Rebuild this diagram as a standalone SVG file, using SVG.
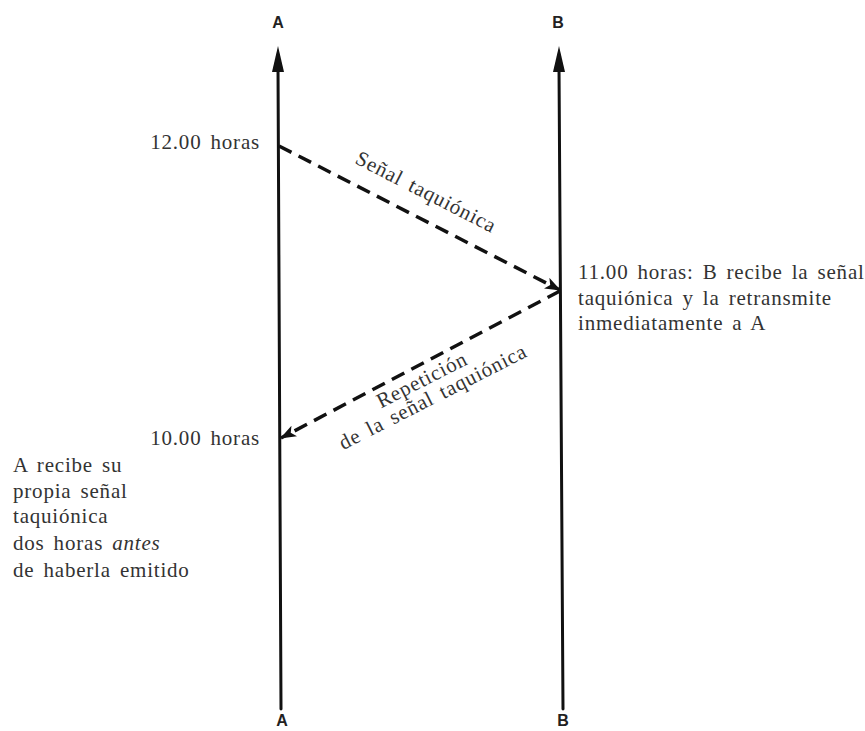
<svg xmlns="http://www.w3.org/2000/svg" width="865" height="731" viewBox="0 0 865 731">
<defs>
<style>
.t{font-family:"Liberation Serif","DejaVu Serif","Times New Roman",serif;font-size:21px;fill:#333;letter-spacing:0.8px;word-spacing:3px}
.lbl{font-family:"Liberation Sans","DejaVu Sans",Arial,sans-serif;font-size:16px;font-weight:bold;fill:#222;text-anchor:middle}
.axis{stroke:#111;stroke-width:3;fill:none;stroke-linecap:round}
.sig{stroke:#111;stroke-width:3.5;fill:none;stroke-dasharray:14 8}
</style>
<marker id="ah" viewBox="0 0 16 12" refX="15" refY="6" markerWidth="16" markerHeight="12" markerUnits="userSpaceOnUse" orient="auto">
<path d="M0,0 L16,6 L0,12 L4,6 Z" fill="#111"/>
</marker>
</defs>
<rect width="865" height="731" fill="#fff"/>
<g id="axisA">
<line class="axis" x1="278" y1="66" x2="281" y2="709"/>
<path d="M278,46 L284,72 L272,72 Z" fill="#111"/>
<text class="lbl" x="278" y="28">A</text>
<text class="lbl" x="282" y="726">A</text>
</g>
<g id="axisB">
<line class="axis" x1="559" y1="66" x2="563" y2="709"/>
<path d="M559,46 L565,72 L553,72 Z" fill="#111"/>
<text class="lbl" x="558" y="28">B</text>
<text class="lbl" x="563" y="726">B</text>
</g>
<g id="connectors">
<line class="sig" x1="279" y1="146" x2="560" y2="290" marker-end="url(#ah)"/>
<line class="sig" x1="560" y1="291" x2="281" y2="438" marker-end="url(#ah)"/>
</g>
<g id="label-send">
<text class="t" text-anchor="end" x="260" y="149">12.00 horas</text>
<text class="t" text-anchor="middle" transform="translate(423,198) rotate(27)">Señal taquiónica</text>
</g>
<g id="label-B">
<text class="t" x="578" y="279">11.00 horas: B recibe la señal</text>
<text class="t" x="578" y="305">taquiónica y la retransmite</text>
<text class="t" x="578" y="330">inmediatamente a A</text>
</g>
<g id="label-return">
<text class="t" text-anchor="middle" transform="translate(425,386) rotate(-27)">Repetición</text>
<text class="t" text-anchor="middle" transform="translate(436,403) rotate(-27)">de la señal taquiónica</text>
</g>
<g id="label-A">
<text class="t" text-anchor="end" x="260" y="445">10.00 horas</text>
<text class="t" x="13" y="472">A recibe su</text>
<text class="t" x="13" y="498">propia señal</text>
<text class="t" x="13" y="523">taquiónica</text>
<text class="t" x="13" y="550">dos horas <tspan font-style="italic">antes</tspan></text>
<text class="t" x="13" y="577">de haberla emitido</text>
</g>
</svg>
